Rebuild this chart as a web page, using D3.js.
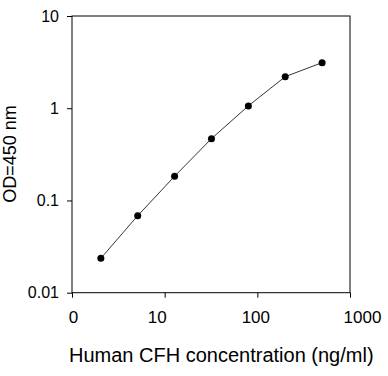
<!DOCTYPE html>
<html>
<head>
<meta charset="utf-8">
<script src="https://cdn.jsdelivr.net/npm/d3@7"></script>
<style>
  body { margin: 0; background: #fff; }
  text { font-family: "Liberation Sans", Arial, sans-serif; fill: #000; }
</style>
</head>
<body>
<div id="chart"></div>
<script>
// standard curve data
var concentrations = [2.048, 5.12, 12.8, 32, 80, 200, 500];
var od_values = [0.0236, 0.0684, 0.183, 0.468, 1.06, 2.2, 3.12];

var x_ticks = [1, 10, 100, 1000];
var x_tick_labels = ['0', '10', '100', '1000'];
var y_ticks = [0.01, 0.1, 1, 10];
var y_tick_labels = ['0.01', '0.1', '1', '10'];

var chart_width = 388;
var chart_height = 376;
var plot_left = 72, plot_right = 350, plot_top = 16, plot_bottom = 292.7;

var svg = d3.select('#chart')
  .append('svg')
  .attr('width', chart_width)
  .attr('height', chart_height);

var x_scale = d3.scaleLog()
  .domain([1, 1000])
  .range([plot_left, plot_right]);

var y_scale = d3.scaleLog()
  .domain([0.01, 10])
  .range([plot_bottom, plot_top]);

// frame
svg.append('rect')
  .attr('x', plot_left)
  .attr('y', plot_top)
  .attr('width', plot_right - plot_left)
  .attr('height', plot_bottom - plot_top)
  .attr('fill', 'none')
  .attr('stroke', '#000')
  .attr('stroke-width', 1);

// x axis
var x_axis = d3.axisBottom(x_scale)
  .tickValues(x_ticks)
  .tickSize(5)
  .tickPadding(0)
  .tickFormat(function(d, i) { return x_tick_labels[i]; });
var x_g = svg.append('g')
  .attr('class', 'x-axis')
  .attr('transform', 'translate(0,' + plot_bottom + ')')
  .call(x_axis);
x_g.select('.domain').remove();
// label nudges as in the original layout
var x_label_dx = [1, -8, -2, 12];
x_g.selectAll('.tick text')
  .attr('font-size', 17)
  .attr('font-family', '"Liberation Sans", Arial, sans-serif')
  .attr('dy', null)
  .attr('y', 30.5)
  .attr('dx', function(d, i) { return x_label_dx[i]; });

// y axis
var y_axis = d3.axisLeft(y_scale)
  .tickValues(y_ticks)
  .tickSize(5)
  .tickPadding(8)
  .tickFormat(function(d, i) { return y_tick_labels[i]; });
var y_g = svg.append('g')
  .attr('class', 'y-axis')
  .attr('transform', 'translate(' + plot_left + ',0)')
  .call(y_axis);
y_g.select('.domain').remove();
y_g.selectAll('.tick text')
  .attr('font-size', 16)
  .attr('font-family', '"Liberation Sans", Arial, sans-serif');

svg.selectAll('.tick line').attr('stroke', '#000');

// line
var line = d3.line()
  .x(function(d, i) { return x_scale(d); })
  .y(function(d, i) { return y_scale(od_values[i]); });

svg.append('path')
  .datum(concentrations)
  .attr('d', line)
  .attr('fill', 'none')
  .attr('stroke', '#000')
  .attr('stroke-width', 0.8);

// points
svg.append('g')
  .selectAll('circle')
  .data(concentrations)
  .enter()
  .append('circle')
  .attr('cx', function(d) { return x_scale(d); })
  .attr('cy', function(d, i) { return y_scale(od_values[i]); })
  .attr('r', 3.5)
  .attr('fill', '#000');

// axis titles
svg.append('text')
  .attr('x', 69)
  .attr('y', 362)
  .attr('font-size', 20)
  .text('Human CFH concentration (ng/ml)');

svg.append('text')
  .attr('transform', 'translate(16,154) rotate(-90)')
  .attr('text-anchor', 'middle')
  .attr('font-size', 18)
  .text('OD=450 nm');
</script>
</body>
</html>
